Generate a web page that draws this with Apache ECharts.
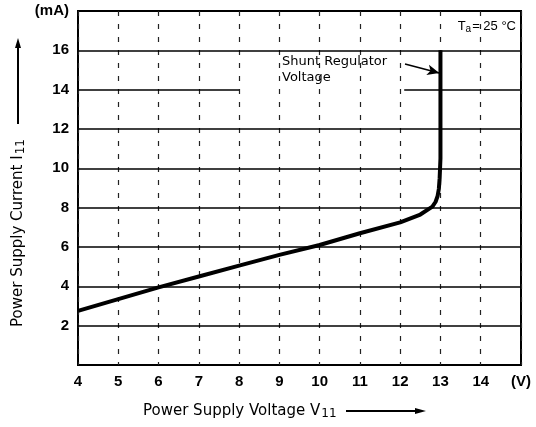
<!DOCTYPE html>
<html><head><meta charset="utf-8">
<script src="https://cdn.jsdelivr.net/npm/echarts@6/dist/echarts.min.js"></script>
<style>html,body{margin:0;padding:0;background:#fff}#c{width:536px;height:427px}</style>
</head><body><div id="c"></div>
<script>
// Data
const voltage = [4, 5, 6, 7, 8, 9, 10, 11, 12, 12.5, 12.8, 12.88, 12.93, 12.96, 12.98, 13, 13];
const current = [2.75, 3.35, 3.95, 4.5, 5.05, 5.6, 6.1, 6.7, 7.25, 7.65, 8.05, 8.3, 8.6, 8.95, 9.5, 10.5, 16];
const xTicks = [4, 5, 6, 7, 8, 9, 10, 11, 12, 13, 14, 15];
const xTickLabels = ['4', '5', '6', '7', '8', '9', '10', '11', '12', '13', '14', '(V)'];
const yTicks = [0, 2, 4, 6, 8, 10, 12, 14, 16, 18];
const yTickLabels = ['', '2', '4', '6', '8', '10', '12', '14', '16', '(mA)'];
const hGridFull = [2, 4, 6, 8, 10, 12, 16];
const hGridSplit = [[4, 8], [12.1, 15]]; // y=14 line segments (interrupted by annotation)
const arrowFrom = [12.12, 15.3];
const arrowTo = [12.97, 14.85];

const font = '"Liberation Sans", Arial, sans-serif';
const wfont = '"DejaVu Sans", sans-serif';
const chart = echarts.init(document.getElementById('c'));
const curveData = voltage.map((v, i) => [v, current[i]]);

const markLines = hGridFull.map(y => [{coord: [4, y]}, {coord: [15, y]}]);
hGridSplit.forEach(s => markLines.push([{coord: [s[0], 14]}, {coord: [s[1], 14]}]));

chart.setOption({
  animation: false,
  backgroundColor: '#fff',
  grid: {left: 78, right: 15, top: 11, bottom: 62, show: true, borderColor: '#000', borderWidth: 2},
  xAxis: {
    type: 'value', min: 4, max: 15, interval: 1,
    axisLine: {show: false}, axisTick: {show: false},
    axisLabel: {color: '#000', fontFamily: font, fontSize: 15, fontWeight: 'bold', margin: 9,
      formatter: v => xTickLabels[xTicks.indexOf(v)] ?? ''},
    splitLine: {show: true, lineStyle: {color: '#222', width: 1.2, type: [5, 8]}}
  },
  yAxis: {
    type: 'value', min: 0, max: 18, interval: 2,
    axisLine: {show: false}, axisTick: {show: false},
    axisLabel: {color: '#000', fontFamily: font, fontSize: 15, fontWeight: 'bold', margin: 9,
      formatter: v => yTickLabels[yTicks.indexOf(v)] ?? ''},
    splitLine: {show: false}
  },
  series: [
    {
      type: 'line', data: curveData, symbol: 'none',
      lineStyle: {color: '#000', width: 4}, z: 5,
      markLine: {
        silent: true, symbol: 'none', label: {show: false},
        lineStyle: {color: '#000', width: 1.6, type: 'solid'},
        data: markLines
      }
    },
    {
      type: 'line', data: [], symbol: 'none',
      markLine: {
        silent: true, symbol: ['none', 'arrow'], symbolSize: [8, 12],
        label: {show: false},
        lineStyle: {color: '#000', width: 1.6, type: 'solid'},
        data: [[{coord: arrowFrom}, {coord: arrowTo}]]
      }
    }
  ],
  graphic: [
    {type: 'text', left: 282, top: 54, style: {text: 'Shunt Regulator\nVoltage', font: '13px ' + wfont, fill: '#000', lineHeight: 16}},
    {type: 'text', right: 20, top: 20, style: {
      text: '{t|T}{s|a}{t|= 25 °C}', fill: '#000',
      rich: {t: {fontFamily: font, fontSize: 13}, s: {fontFamily: font, fontSize: 10, verticalAlign: 'bottom', padding: [6, 1, 0, 0]}}
    }},
    {type: 'text', x: 18, y: 233, rotation: Math.PI / 2, style: {
      text: '{t|Power Supply Current I}{s|11}', align: 'center', verticalAlign: 'middle', fill: '#000',
      rich: {t: {fontFamily: wfont, fontSize: 15}, s: {fontFamily: wfont, fontSize: 12, padding: [5, 0, 0, 1]}}
    }},
    {type: 'line', shape: {x1: 18, y1: 124, x2: 18, y2: 44}, style: {stroke: '#000', lineWidth: 2}},
    {type: 'polygon', shape: {points: [[18, 38], [15, 48], [21, 48]]}, style: {fill: '#000'}},
    {type: 'text', x: 143, y: 411, style: {
      text: '{t|Power Supply Voltage V}{s|11}', verticalAlign: 'middle', fill: '#000',
      rich: {t: {fontFamily: wfont, fontSize: 15}, s: {fontFamily: wfont, fontSize: 12, padding: [6, 0, 0, 1]}}
    }},
    {type: 'line', shape: {x1: 346, y1: 411, x2: 418, y2: 411}, style: {stroke: '#000', lineWidth: 2}},
    {type: 'polygon', shape: {points: [[426, 411], [415, 408], [415, 414]]}, style: {fill: '#000'}}
  ]
});
</script></body></html>
